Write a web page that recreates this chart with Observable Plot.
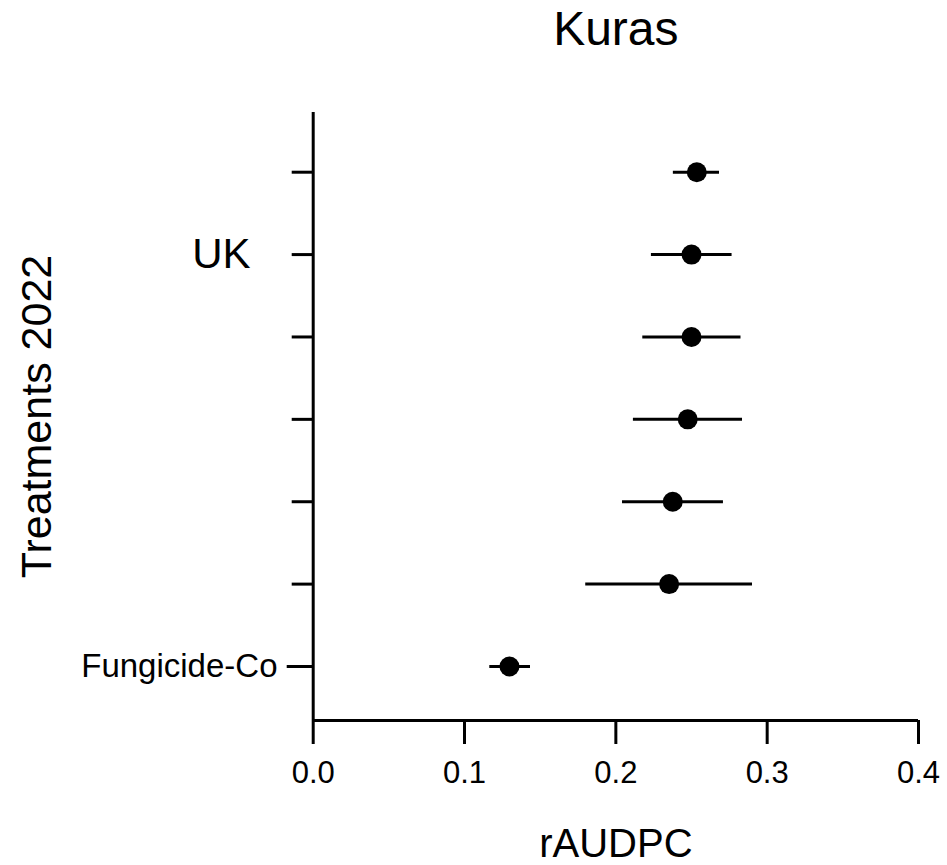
<!DOCTYPE html>
<html>
<head>
<meta charset="utf-8">
<script src="https://cdn.jsdelivr.net/npm/d3@7"></script>
<script src="https://cdn.jsdelivr.net/npm/@observablehq/plot@0.6"></script>
<style>
  html, body { margin: 0; padding: 0; background: #fff; }
  #chart { width: 947px; height: 865px; }
  svg { font-family: "Liberation Sans", Arial, sans-serif; }
</style>
</head>
<body>
<div id="chart"></div>
<script>
// Rows from top to bottom; position 7 = top row, 1 = bottom row
const rowPos = [7, 6, 5, 4, 3, 2, 1];
const rowLabels = ["", "UK", "", "", "", "", "Fungicide-Co"];
const means = [0.2535, 0.2500, 0.2500, 0.2475, 0.2376, 0.2352, 0.1297];
const lower = [0.2380, 0.2235, 0.2178, 0.2116, 0.2044, 0.1801, 0.1167];
const upper = [0.2685, 0.2768, 0.2827, 0.2837, 0.2711, 0.2903, 0.1436];
const xTicks = [0, 0.1, 0.2, 0.3, 0.4];
const xDomain = [0, 0.4];
const yDomain = [0.3445, 7.7247];
const title = "Kuras";
const xLabel = "rAUDPC";
const yLabel = "Treatments 2022";

const data = rowPos.map((p, i) => ({pos: p, label: rowLabels[i], mean: means[i], lo: lower[i], hi: upper[i]}));
const labelOf = p => rowLabels[rowPos.indexOf(p)];
const ukPos = rowPos[rowLabels.indexOf("UK")];
const fungPos = rowPos[rowLabels.indexOf("Fungicide-Co")];
const plainTicks = rowPos.filter(p => p !== fungPos);

const chart = Plot.plot({
  width: 947,
  height: 865,
  marginLeft: 312.7,
  marginRight: 29,
  marginTop: 112,
  marginBottom: 145,
  style: {fontFamily: '"Liberation Sans", Arial, sans-serif', color: "#000", background: "#fff", overflow: "visible"},
  x: {domain: xDomain, axis: null},
  y: {domain: yDomain, axis: null},
  marks: [
    // L-shaped box
    Plot.ruleX([xDomain[0]], {stroke: "#000", strokeWidth: 3}),
    Plot.ruleY([yDomain[0]], {stroke: "#000", strokeWidth: 3}),
    // x axis ticks and labels
    Plot.axisX({ticks: xTicks, tickSize: 24, tickPadding: 16, fontSize: 31, tickFormat: d3.format(".1f"), label: null, stroke: "#000", strokeWidth: 3, anchor: "bottom"}),
    // y axis ticks
    Plot.axisY({ticks: plainTicks, tickSize: 21, tickFormat: () => "", label: null, stroke: "#000", strokeWidth: 3, anchor: "left"}),
    Plot.axisY({ticks: [fungPos], tickSize: 26, tickFormat: () => "", label: null, stroke: "#000", strokeWidth: 3, anchor: "left"}),
    // y axis labels (different sizes as in the original)
    Plot.axisY({ticks: [ukPos], tickSize: 0, tickPadding: 62.7, fontSize: 42, tickFormat: labelOf, label: null, anchor: "left"}),
    Plot.axisY({ticks: [fungPos], tickSize: 0, tickPadding: 35.7, fontSize: 33, tickFormat: labelOf, label: null, anchor: "left"}),
    // error bars
    Plot.ruleY(data, {y: "pos", x1: "lo", x2: "hi", stroke: "#000", strokeWidth: 3}),
    // points
    Plot.dot(data, {x: "mean", y: "pos", r: 10, fill: "#000", stroke: null}),
    // title and axis titles
    Plot.text([title], {frameAnchor: "top", dy: -102, fontSize: 48, fill: "#000"}),
    Plot.text([xLabel], {frameAnchor: "bottom", dy: 136, fontSize: 40, fill: "#000"}),
    Plot.text([yLabel], {frameAnchor: "left", textAnchor: "middle", dx: -275.5, rotate: -90, fontSize: 43, fill: "#000"})
  ]
});
document.getElementById("chart").appendChild(chart);
</script>
</body>
</html>
